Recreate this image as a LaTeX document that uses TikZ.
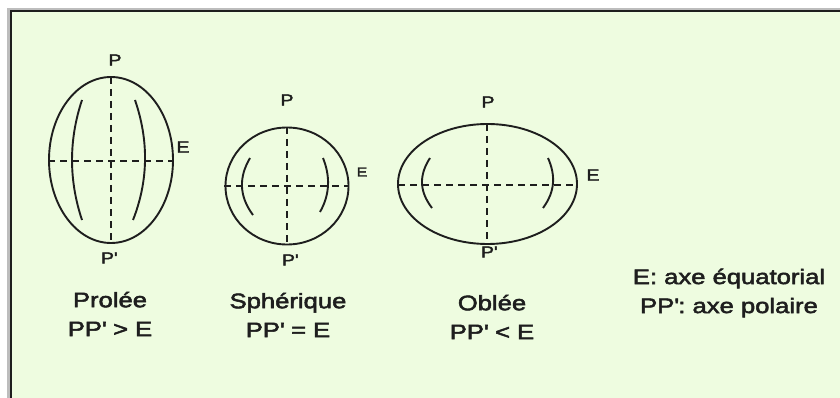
\documentclass[tikz,border=0pt]{standalone}
\usepackage{fontspec}
\setmainfont{Liberation Sans}[FakeStretch=1.22, FakeBold=2.5]
\usetikzlibrary{positioning}
\definecolor{myPaleGreen}{HTML}{EEFCE0}
\definecolor{myFrameGray}{HTML}{BDBDBD}
\definecolor{myInk}{HTML}{1E1E1E}
\newcommand{\pr}{\textquotesingle}

\begin{document}
\begin{tikzpicture}[
        x=1pt, y=-1pt,
        outline/.style={draw=myInk, line width=1.9pt}, % contour of each body
        axis/.style={draw=myInk, line width=1.4pt, dash pattern=on 7pt off 5pt}, % PP' and E
        meridian/.style={draw=myInk, line width=1.9pt},
        pole/.style={font=\fontsize{16}{16}\selectfont, text=myInk},
        caption/.style={align=center, font=\fontsize{21}{29}\selectfont, text=myInk}
    ]
    \useasboundingbox (0,0) rectangle (840,398);
    \clip (0,0) rectangle (840,398);
    \fill[white] (0,0) rectangle (840,398);
    \draw[myFrameGray, line width=3pt] (8.5,9.5) rectangle (870,430);
    \draw[fill=myPaleGreen, draw=myInk, line width=2pt] (10.5,11.5) rectangle (870,430);

    % prolee
    \coordinate (proC) at (111,160);
    \draw[outline] (proC) ellipse [x radius=62, y radius=83];
    \draw[axis] (111,77) -- (111,243);
    \draw[axis] (48,161) -- (172,161);
    \draw[meridian] (82,100) .. controls (68.7,140) and (68.7,180) .. (82,220);
    \draw[meridian] (135,100) .. controls (148.7,140) and (148.7,180) .. (133,220);
    \node[pole] (proP) at (115,60) {P};
    \node[pole] (proE) at (183,147) {E};
    \node[pole] (proQ) at (109,258) {P\pr};

    % spherique
    \coordinate (sphC) at (287,186);
    \draw[outline] (sphC) ellipse [x radius=61.5, y radius=58.5];
    \draw[axis] (287,127) -- (287,244);
    \draw[axis] (224,186) -- (348,186);
    \draw[meridian] (250,158) .. controls (238.8,177) and (238.8,196) .. (253,215);
    \draw[meridian] (323,158) .. controls (330.2,176) and (330.2,194) .. (320,212);
    \node[pole] (sphP) at (287,100) {P};
    \node[pole, font=\fontsize{13}{13}\selectfont] (sphE) at (362,172) {E};
    \node[pole] (sphQ) at (290,260) {P\pr};

    % oblee
    \coordinate (oblC) at (487.5,184);
    \draw[outline] (oblC) ellipse [x radius=89.5, y radius=60];
    \draw[axis] (487,124) -- (487,244);
    \draw[axis] (398,185) -- (577,185);
    \draw[meridian] (430,158) .. controls (419,175) and (419,191) .. (432,208);
    \draw[meridian] (548,158) .. controls (555.5,175) and (555.5,191) .. (543,208);
    \node[pole] (oblP) at (488,102) {P};
    \node[pole] (oblE) at (593,175) {E};
    \node[pole] (oblQ) at (489,252) {P\pr};

    % captions
    \node[caption] (proText) at (110,314) {Prolée\\PP\pr{} > E};
    \node[caption] (sphText) at (288,315) {Sphérique\\PP\pr{} = E};
    \node[caption] (oblText) at (492,317) {Oblée\\PP\pr{} < E};
    \node[caption] (legend) at (729,293) {E: axe équatorial\\PP\pr: axe polaire};
\end{tikzpicture}
\end{document}
